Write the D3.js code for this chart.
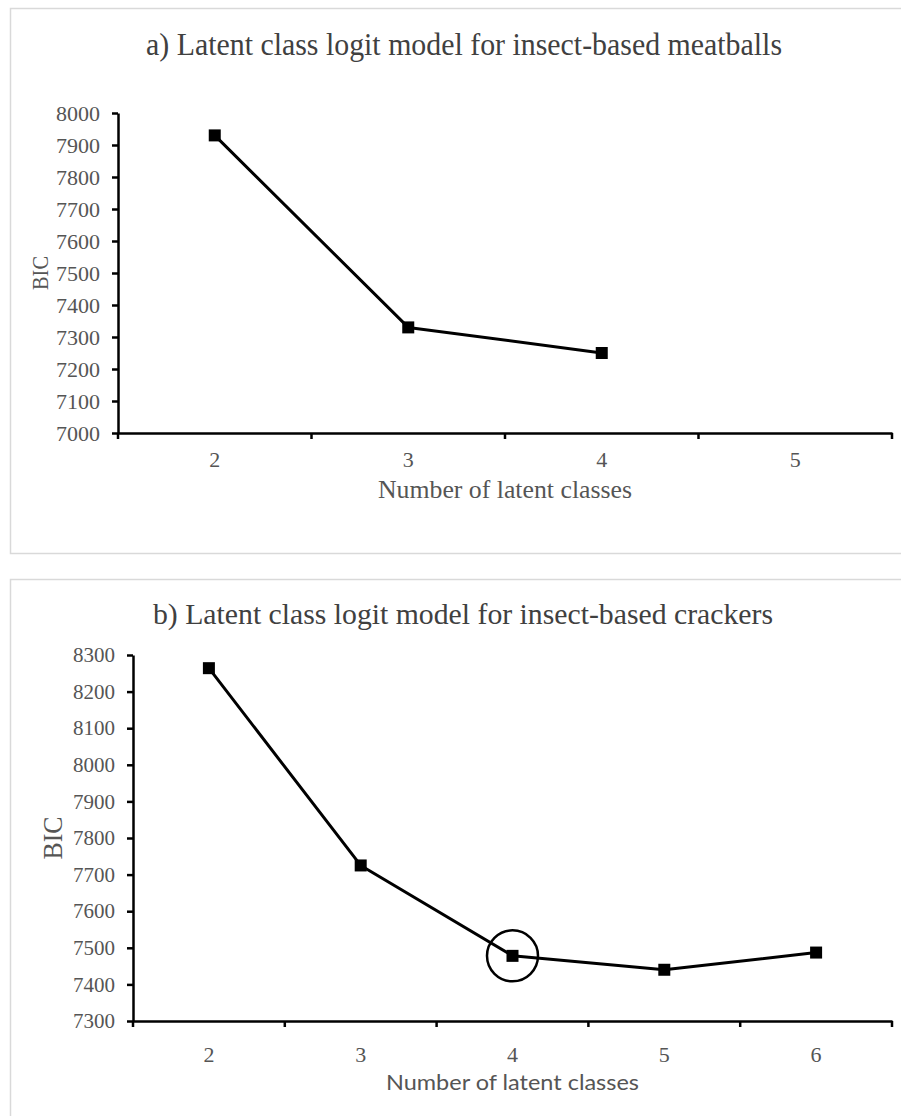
<!DOCTYPE html>
<html>
<head>
<meta charset="utf-8">
<script src="https://cdn.jsdelivr.net/npm/d3@7"></script>
<style>
  body { margin: 0; background: #fff; }
</style>
</head>
<body>
<div id="chart"></div>
<script>
// panel a: meatballs
const classesA = ["2", "3", "4", "5"];
const bicA = [7930, 7330, 7250];
const ticksA = [7000, 7100, 7200, 7300, 7400, 7500, 7600, 7700, 7800, 7900, 8000];
const titleA = "a) Latent class logit model for insect-based meatballs";

// panel b: crackers
const classesB = ["2", "3", "4", "5", "6"];
const bicB = [8264, 7725, 7478, 7440, 7487];
const ticksB = [7300, 7400, 7500, 7600, 7700, 7800, 7900, 8000, 8100, 8200, 8300];
const titleB = "b) Latent class logit model for insect-based crackers";
const chosenB = "4";

const xTitle = "Number of latent classes";
const yTitle = "BIC";

const width = 901, height = 1116;
const serif = "'Liberation Serif', 'Times New Roman', serif";

const svg = d3.select("#chart").append("svg")
    .attr("width", width)
    .attr("height", height)
    .attr("viewBox", [0, 0, width, height]);

// panel frames
svg.append("rect")
    .attr("x", 10.5).attr("y", 8.5).attr("width", 900).attr("height", 545)
    .attr("fill", "none").attr("stroke", "#d9d9d9").attr("stroke-width", 1.5);
svg.append("rect")
    .attr("x", 10.5).attr("y", 579.5).attr("width", 900).attr("height", 600)
    .attr("fill", "none").attr("stroke", "#d9d9d9").attr("stroke-width", 1.5);

function drawPanel(p) {
    const x = d3.scaleBand().domain(p.classes).range([p.left, p.right]);
    const y = d3.scaleLinear().domain([p.ticks[0], p.ticks[p.ticks.length - 1]]).range([p.bottom, p.top]);

    // title
    svg.append("text")
        .attr("x", p.titleX).attr("y", p.titleY)
        .attr("text-anchor", "middle")
        .attr("font-family", serif)
        .attr("font-size", p.titleSize)
        .attr("fill", "#404040")
        .attr("textLength", p.titleLen)
        .attr("lengthAdjust", "spacingAndGlyphs")
        .text(p.title);

    // y axis
    const gy = svg.append("g")
        .attr("transform", `translate(${p.left},0)`)
        .call(d3.axisLeft(y).tickValues(p.ticks).tickFormat(d3.format("d"))
            .tickSize(6).tickSizeOuter(0).tickPadding(12));
    gy.select(".domain").attr("stroke", "#000").attr("stroke-width", 2.5);
    gy.selectAll(".tick line").attr("stroke", "#000").attr("stroke-width", 2.5);
    gy.selectAll(".tick text")
        .attr("font-family", p.yTickFont)
        .attr("font-size", p.yTickSize)
        .attr("fill", "#555");

    // x axis, with ticks between categories
    const gx = svg.append("g")
        .attr("transform", `translate(0,${p.bottom})`)
        .call(d3.axisBottom(x).tickSize(0).tickSizeOuter(0).tickPadding(0));
    gx.select(".domain").attr("stroke", "#000").attr("stroke-width", 2.5);
    gx.selectAll(".tick text")
        .attr("y", p.xTickDy).attr("dy", 0)
        .attr("font-family", serif)
        .attr("font-size", p.xTickSize)
        .attr("fill", "#555");
    const edges = p.classes.map(c => x(c)).concat([x.range()[1]]);
    gx.selectAll(".sep").data(edges).join("line")
        .attr("class", "sep")
        .attr("x1", d => d).attr("x2", d => d)
        .attr("y1", 0).attr("y2", 6)
        .attr("stroke", "#000").attr("stroke-width", 2.5);

    // axis titles
    svg.append("text")
        .attr("x", (p.left + p.right) / 2).attr("y", p.xTitleY)
        .attr("text-anchor", "middle")
        .attr("font-family", p.xTitleFont)
        .attr("font-size", p.xTitleSize)
        .attr("fill", "#555")
        .attr("textLength", p.xTitleLen)
        .attr("lengthAdjust", "spacingAndGlyphs")
        .text(xTitle);

    svg.append("text")
        .attr("transform", `translate(${p.yTitleX},${p.yTitleY}) rotate(-90)`)
        .attr("text-anchor", "middle")
        .attr("font-family", p.yTitleFont)
        .attr("font-size", p.yTitleSize)
        .attr("fill", "#555")
        .attr("textLength", p.yTitleLen)
        .attr("lengthAdjust", "spacingAndGlyphs")
        .text(yTitle);

    // series
    const pts = p.values.map((v, i) => ({ c: p.classes[i], v }));
    const cx = d => x(d.c) + x.bandwidth() / 2;
    const line = d3.line().x(cx).y(d => y(d.v));

    svg.append("path")
        .datum(pts)
        .attr("fill", "none")
        .attr("stroke", "#000")
        .attr("stroke-width", 3)
        .attr("stroke-linejoin", "round")
        .attr("d", line);

    svg.append("g").selectAll("rect").data(pts).join("rect")
        .attr("x", d => cx(d) - 6).attr("y", d => y(d.v) - 6)
        .attr("width", 12).attr("height", 12)
        .attr("fill", "#000");

    if (p.chosen) {
        const d = pts.find(d => d.c === p.chosen);
        svg.append("circle")
            .attr("cx", cx(d)).attr("cy", y(d.v)).attr("r", 25.5)
            .attr("fill", "none").attr("stroke", "#000").attr("stroke-width", 2.5);
    }
}

drawPanel({
    classes: classesA, values: bicA, ticks: ticksA, title: titleA,
    left: 118, right: 892, top: 113, bottom: 433,
    titleX: 464, titleY: 55, titleSize: 31, titleLen: 636,
    yTickFont: serif, yTickSize: 22, xTickSize: 22, xTickDy: 34,
    xTitleY: 498, xTitleFont: serif, xTitleSize: 25, xTitleLen: 254,
    yTitleX: 48, yTitleY: 273, yTitleFont: serif, yTitleSize: 23, yTitleLen: 34
});

drawPanel({
    classes: classesB, values: bicB, ticks: ticksB, title: titleB, chosen: chosenB,
    left: 133, right: 892, top: 655, bottom: 1021,
    titleX: 463, titleY: 624, titleSize: 30, titleLen: 620,
    yTickFont: serif, yTickSize: 21, xTickSize: 22, xTickDy: 41,
    xTitleY: 1090, xTitleFont: "Lato, 'Open Sans', sans-serif", xTitleSize: 22, xTitleLen: 253,
    yTitleX: 62, yTitleY: 838, yTitleFont: serif, yTitleSize: 28, yTitleLen: 43
});
</script>
</body>
</html>
